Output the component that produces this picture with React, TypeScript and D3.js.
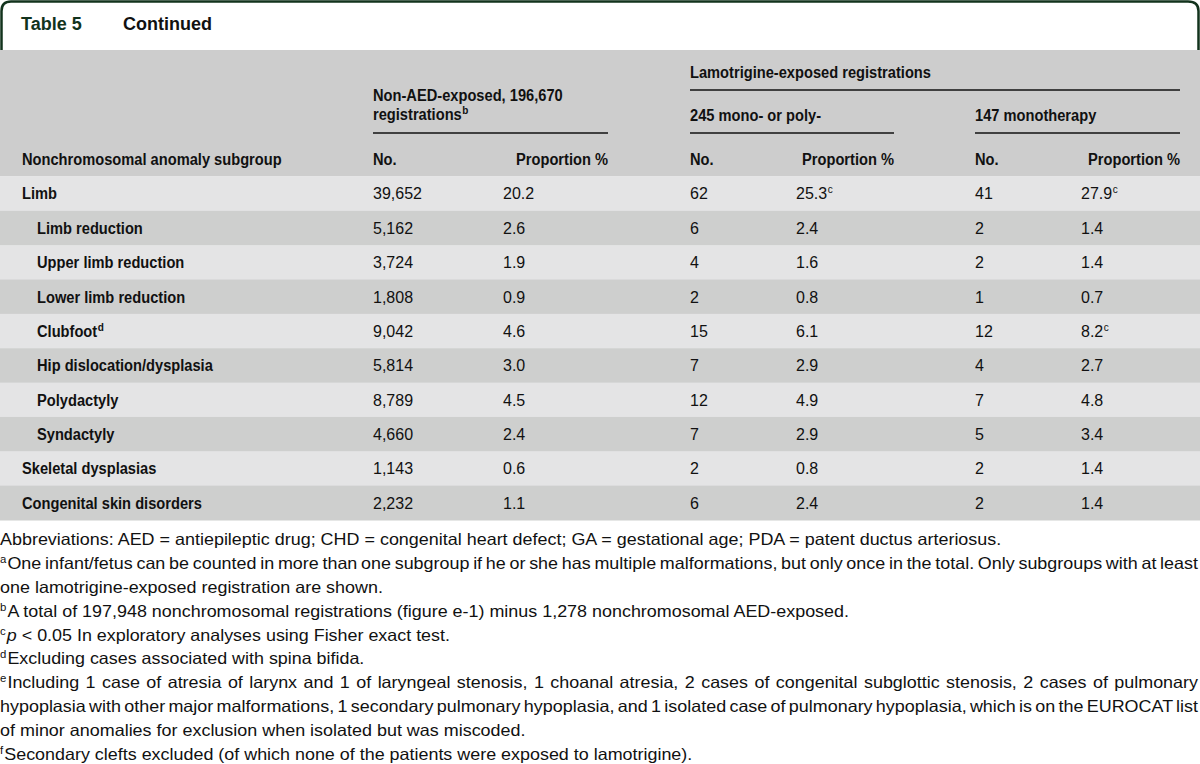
import React, { useEffect, useRef } from 'react';
import * as d3 from 'd3';

// ---------- data ----------
const subgroups = [
  'Limb', 'Limb reduction', 'Upper limb reduction', 'Lower limb reduction', 'Clubfoot',
  'Hip dislocation/dysplasia', 'Polydactyly', 'Syndactyly', 'Skeletal dysplasias', 'Congenital skin disorders',
];
const subgroupNotes = ['', '', '', '', 'd', '', '', '', '', ''];
const indented = [false, true, true, true, true, true, true, true, false, false];
const nonAedNo = [39652, 5162, 3724, 1808, 9042, 5814, 8789, 4660, 1143, 2232];
const nonAedPct = [20.2, 2.6, 1.9, 0.9, 4.6, 3.0, 4.5, 2.4, 0.6, 1.1];
const lamNo = [62, 6, 4, 2, 15, 7, 12, 7, 2, 6];
const lamPct = [25.3, 2.4, 1.6, 0.8, 6.1, 2.9, 4.9, 2.9, 0.8, 2.4];
const lamPctNotes = ['c', '', '', '', '', '', '', '', '', ''];
const monoNo = [41, 2, 2, 1, 12, 4, 7, 5, 2, 2];
const monoPct = [27.9, 1.4, 1.4, 0.7, 8.2, 2.7, 4.8, 3.4, 1.4, 1.4];
const monoPctNotes = ['c', '', '', '', 'c', '', '', '', '', ''];

const titleLabel = 'Table 5';
const titleText = 'Continued';
const groupHeader = 'Lamotrigine-exposed registrations';
const nonAedHeader = ['Non-AED-exposed, 196,670', 'registrations'];
const nonAedHeaderNote = 'b';
const lamHeader = '245 mono- or poly-';
const monoHeader = '147 monotherapy';
const colHeaders = ['Nonchromosomal anomaly subgroup', 'No.', 'Proportion %', 'No.', 'Proportion %', 'No.', 'Proportion %'];

const footSups = ['', 'a', '', 'b', 'c', 'd', 'e', '', '', 'f'];
const footItalic = ['', '', '', '', 'p', '', '', '', '', ''];
const footTexts = [
  'Abbreviations: AED = antiepileptic drug; CHD = congenital heart defect; GA = gestational age; PDA = patent ductus arteriosus.',
  'One infant/fetus can be counted in more than one subgroup if he or she has multiple malformations, but only once in the total. Only subgroups with at least',
  'one lamotrigine-exposed registration are shown.',
  'A total of 197,948 nonchromosomal registrations (figure e-1) minus 1,278 nonchromosomal AED-exposed.',
  ' < 0.05 In exploratory analyses using Fisher exact test.',
  'Excluding cases associated with spina bifida.',
  'Including 1 case of atresia of larynx and 1 of laryngeal stenosis, 1 choanal atresia, 2 cases of congenital subglottic stenosis, 2 cases of pulmonary',
  'hypoplasia with other major malformations, 1 secondary pulmonary hypoplasia, and 1 isolated case of pulmonary hypoplasia, which is on the EUROCAT list',
  'of minor anomalies for exclusion when isolated but was miscoded.',
  'Secondary clefts excluded (of which none of the patients were exposed to lamotrigine).',
];
const footJustify = [false, true, false, false, false, false, true, true, false, false];

// ---------- layout ----------
const W = 1200;
const H = 764;
const FONT = '"Liberation Sans", Arial, sans-serif';
const GREEN = '#12331d';
const HEAD_BG = '#cdcdcd';
const ROW_LIGHT = '#e4e4e5';
const ROW_DARK = '#cecfce';

export default function App() {
  const ref = useRef<SVGSVGElement | null>(null);

  useEffect(() => {
    const svg = d3.select(ref.current);
    svg.selectAll('*').remove();

    const fmtN = d3.format(',');
    const fmtP = d3.format('.1f');

    const colX = { label: 22, indent: 37, n1: 373, p1: 503, p1r: 608, n2: 690, p2: 796, p2r: 894, n3: 975, p3: 1081, p3r: 1180 };

    // Title area
    svg.append('rect').attr('x', 0).attr('y', 0).attr('width', W).attr('height', 50).attr('fill', '#fff');
    svg.append('path')
      .attr('d', `M1.5,50 V11 Q1.5,1.5 11,1.5 H1188 Q1198.5,1.5 1198.5,11 V50`)
      .attr('fill', 'none').attr('stroke', GREEN).attr('stroke-width', 2.5);
    svg.append('text').attr('x', 21).attr('y', 30).attr('font-family', FONT).attr('font-weight', 700)
      .attr('font-size', 18).attr('fill', GREEN).text(titleLabel);
    svg.append('text').attr('x', 123).attr('y', 30).attr('font-family', FONT).attr('font-weight', 700)
      .attr('font-size', 18).attr('fill', '#111').text(titleText);

    // Header background
    const rowTop = 176.5;
    const rowH = 34.35;
    svg.append('rect').attr('x', 0).attr('y', 50).attr('width', W).attr('height', rowTop - 50).attr('fill', HEAD_BG);

    const rows = d3.scaleBand<number>().domain(d3.range(subgroups.length)).range([rowTop, rowTop + rowH * subgroups.length]).padding(0);

    svg.append('g').selectAll('rect').data(subgroups).join('rect')
      .attr('x', 0).attr('width', W)
      .attr('y', (_, i) => rows(i)!).attr('height', rows.bandwidth() + 0.5)
      .attr('fill', (_, i) => (i % 2 === 0 ? ROW_LIGHT : ROW_DARK));

    // compression factor for the narrow bold grotesque of the reference
    const probe = svg.append('text').attr('x', 0).attr('y', -50).attr('font-family', FONT).attr('font-weight', 700)
      .attr('font-size', 16).text(colHeaders[0]);
    const k = 260 / probe.node()!.getComputedTextLength();
    probe.remove();

    const boldText = (x: number, y: number, s: string, anchor = 'start') =>
      svg.append('text').attr('transform', `translate(${x},${y}) scale(${k},1)`).attr('text-anchor', anchor)
        .attr('font-family', FONT).attr('font-weight', 700).attr('font-size', 16).attr('fill', '#111').text(s);

    const supText = (x: number, y: number, s: string, weight = 400) =>
      svg.append('text').attr('x', x).attr('y', y - 6).attr('font-family', FONT).attr('font-weight', weight)
        .attr('font-size', 10).attr('fill', '#111').text(s);

    const boldWithSup = (x: number, y: number, s: string, note: string) => {
      const t = boldText(x, y, s);
      const w = t.node()!.getComputedTextLength() * k;
      if (note) supText(x + w + 0.6, y, note, 700);
    };

    boldText(colX.n2, 78, groupHeader);
    boldText(colX.n1, 101, nonAedHeader[0]);
    boldWithSup(colX.n1, 120, nonAedHeader[1], nonAedHeaderNote);
    boldText(colX.n2, 121, lamHeader);
    boldText(colX.n3, 121, monoHeader);

    const lines = [
      [colX.n2, colX.p3r, 90],
      [colX.n1, colX.p1r, 133],
      [colX.n2, colX.p2r, 133],
      [colX.n3, colX.p3r, 133],
    ];
    svg.append('g').selectAll('line').data(lines).join('line')
      .attr('x1', d => d[0]).attr('x2', d => d[1]).attr('y1', d => d[2]).attr('y2', d => d[2])
      .attr('stroke', '#111').attr('stroke-width', 1.6);

    const hdrY = 165;
    boldText(colX.label, hdrY, colHeaders[0]);
    boldText(colX.n1, hdrY, colHeaders[1]);
    boldText(colX.p1r, hdrY, colHeaders[2], 'end');
    boldText(colX.n2, hdrY, colHeaders[3]);
    boldText(colX.p2r, hdrY, colHeaders[4], 'end');
    boldText(colX.n3, hdrY, colHeaders[5]);
    boldText(colX.p3r, hdrY, colHeaders[6], 'end');

    const base = (i: number) => rows(i)! + rows.bandwidth() / 2 + 5.8;
    subgroups.forEach((s, i) => {
      boldWithSup(indented[i] ? colX.indent : colX.label, base(i), s, subgroupNotes[i]);
    });

    const numText = (x: number, i: number, s: string, note = '') => {
      const t = svg.append('text').attr('x', x).attr('y', base(i)).attr('font-family', FONT)
        .attr('font-size', 16).attr('fill', '#111').text(s);
      if (note) supText(x + t.node()!.getComputedTextLength() + 0.5, base(i), note);
    };
    subgroups.forEach((_, i) => {
      numText(colX.n1, i, fmtN(nonAedNo[i]));
      numText(colX.p1, i, fmtP(nonAedPct[i]));
      numText(colX.n2, i, fmtN(lamNo[i]));
      numText(colX.p2, i, fmtP(lamPct[i]), lamPctNotes[i]);
      numText(colX.n3, i, fmtN(monoNo[i]));
      numText(colX.p3, i, fmtP(monoPct[i]), monoPctNotes[i]);
    });

    // Footnotes
    const fy = d3.scaleLinear().domain([0, footTexts.length - 1]).range([539, 754]);
    const footEls: SVGTextElement[] = [];
    footTexts.forEach((s, i) => {
      const t = svg.append('text').attr('x', 0).attr('y', fy(i) + 6).attr('font-family', FONT)
        .attr('font-size', 16.5).attr('fill', '#111');
      let dyBack = 0;
      if (footSups[i]) {
        t.append('tspan').attr('font-size', 10.5).attr('dy', -6).text(footSups[i]);
        dyBack = 6;
      }
      if (footItalic[i]) {
        t.append('tspan').attr('font-style', 'italic').attr('dy', dyBack).attr('dx', 1).text(footItalic[i]);
        dyBack = 0;
      }
      t.append('tspan').attr('dy', dyBack).attr('dx', footSups[i] && !footItalic[i] ? 1 : 0).text(s);
      footEls.push(t.node()!);
    });
    // horizontal compression so that line "b" ends where it does in the reference
    const kf = 849 / footEls[3].getComputedTextLength();
    footEls.forEach((el, i) => {
      const w = el.getComputedTextLength();
      if (footJustify[i]) {
        const spaces = (footTexts[i].match(/ /g) || []).length;
        const ws = (1198 / kf - w) / spaces;
        d3.select(el).attr('word-spacing', ws).attr('textLength', 1198).attr('lengthAdjust', 'spacingAndGlyphs');
      } else {
        d3.select(el).attr('textLength', w * kf).attr('lengthAdjust', 'spacingAndGlyphs');
      }
    });
  }, []);

  return (
    <svg ref={ref} width={W} height={H} style={{ position: 'absolute', left: 0, top: 0, background: '#fff' }} />
  );
}
